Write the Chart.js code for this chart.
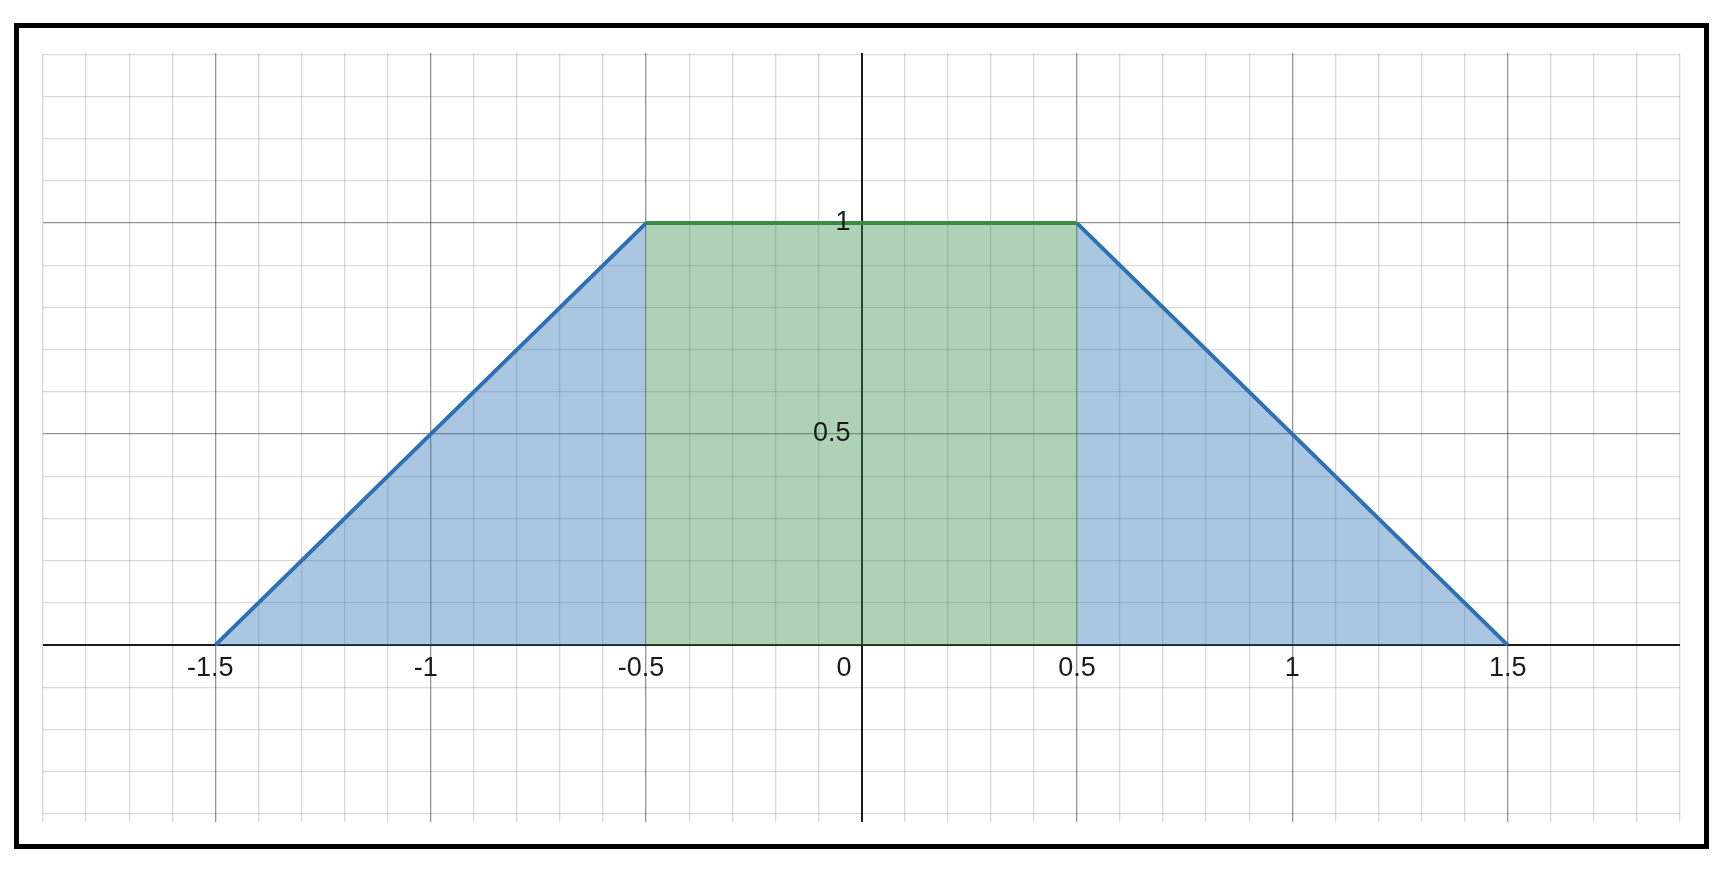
<!DOCTYPE html>
<html>
<head>
<meta charset="utf-8">
<title>Trapezoid</title>
<script src="https://cdn.jsdelivr.net/npm/chart.js@4.4.1/dist/chart.umd.min.js"></script>
<style>
    html, body {
        margin: 0;
        padding: 0;
        background: #ffffff;
    }
    #wrap {
        position: relative;
        width: 1730px;
        height: 872px;
    }
    #frame {
        position: absolute;
        left: 14px;
        top: 23px;
        width: 1695px;
        height: 826px;
        box-sizing: border-box;
        border: 5px solid #000000;
        pointer-events: none;
    }
    canvas {
        position: absolute;
        left: 0;
        top: 0;
    }
</style>
</head>
<body>
<div id="wrap">
    <canvas id="graficoTrapecio" width="1730" height="872"></canvas>
    <div id="frame"></div>
</div>

<script>
// ========================================
// DATA
// ========================================
const leftX = [-1.5, -0.5];
const leftY = [0, 1];
const middleX = [-0.5, 0.5];
const middleY = [1, 1];
const rightX = [0.5, 1.5];
const rightY = [1, 0];

const xTickValues = [-1.5, -1, -0.5, 0, 0.5, 1, 1.5];
const xTickLabels = ['-1.5', '-1', '-0.5', '0', '0.5', '1', '1.5'];
const yTickValues = [0.5, 1];
const yTickLabels = ['0.5', '1'];

const xRange = [-1.9, 1.9];
const yRange = [-0.419, 1.403];

// ========================================
// HELPERS
// ========================================
function toPoints(xs, ys) {
    return xs.map((x, i) => ({ x: x, y: ys[i] }));
}

function isMajor(value) {
    return Math.abs(value * 2 - Math.round(value * 2)) < 1e-6;
}

function gridColor(ctx) {
    const v = ctx.tick ? ctx.tick.value : 0;
    if (Math.abs(v) < 1e-6) return '#1c1c1c';
    if (isMajor(v)) return 'rgba(0, 0, 0, 0.42)';
    return 'rgba(0, 0, 0, 0.15)';
}

function gridWidth(ctx) {
    const v = ctx.tick ? ctx.tick.value : 0;
    if (Math.abs(v) < 1e-6) return 2;
    return 1.3;
}

// labels next to the axes, desmos style
const axisLabels = {
    id: 'axisLabels',
    afterDatasetsDraw(chart) {
        const ctx = chart.ctx;
        const xs = chart.scales.x;
        const ys = chart.scales.y;
        const x0 = xs.getPixelForValue(0);
        const y0 = ys.getPixelForValue(0);

        ctx.save();
        ctx.font = '27px "Liberation Sans", Arial, sans-serif';
        ctx.fillStyle = '#1a1a1a';
        ctx.textBaseline = 'alphabetic';

        xTickValues.forEach((v, i) => {
            const px = xs.getPixelForValue(v);
            if (v === 0) {
                ctx.textAlign = 'right';
                ctx.fillText(xTickLabels[i], x0 - 10, y0 + 31);
            } else {
                ctx.textAlign = 'center';
                ctx.fillText(xTickLabels[i], v < 0 ? px - 5 : px, y0 + 31);
            }
        });

        ctx.textAlign = 'right';
        yTickValues.forEach((v, i) => {
            const py = ys.getPixelForValue(v);
            ctx.fillText(yTickLabels[i], x0 - 11, py + 7);
        });
        ctx.restore();
    }
};

// ========================================
// CHART
// ========================================
const blueLine = '#2d70b3';
const blueFill = 'rgba(45, 112, 179, 0.4)';
const greenLine = '#388c46';
const greenFill = 'rgba(56, 140, 70, 0.4)';

const ctx = document.getElementById('graficoTrapecio').getContext('2d');
const trapecioChart = new Chart(ctx, {
    type: 'line',
    data: {
        datasets: [
            {
                data: toPoints(leftX, leftY),
                borderColor: blueLine,
                backgroundColor: blueFill,
                borderWidth: 4,
                fill: 'origin',
                pointRadius: 0,
                tension: 0
            },
            {
                data: toPoints(middleX, middleY),
                borderColor: greenLine,
                backgroundColor: greenFill,
                borderWidth: 4,
                fill: 'origin',
                pointRadius: 0,
                tension: 0
            },
            {
                data: toPoints(rightX, rightY),
                borderColor: blueLine,
                backgroundColor: blueFill,
                borderWidth: 4,
                fill: 'origin',
                pointRadius: 0,
                tension: 0
            }
        ]
    },
    options: {
        responsive: false,
        animation: false,
        events: [],
        layout: {
            padding: { left: 43, top: 53, right: 50, bottom: 50 }
        },
        plugins: {
            legend: { display: false },
            tooltip: { enabled: false }
        },
        scales: {
            x: {
                type: 'linear',
                min: xRange[0],
                max: xRange[1],
                ticks: { display: false, stepSize: 0.1 },
                grid: { color: gridColor, lineWidth: gridWidth, drawTicks: false },
                border: { display: false }
            },
            y: {
                type: 'linear',
                min: yRange[0],
                max: yRange[1],
                ticks: { display: false, stepSize: 0.1, includeBounds: false },
                grid: { color: gridColor, lineWidth: gridWidth, drawTicks: false },
                border: { display: false }
            }
        }
    },
    plugins: [axisLabels]
});
</script>
</body>
</html>
